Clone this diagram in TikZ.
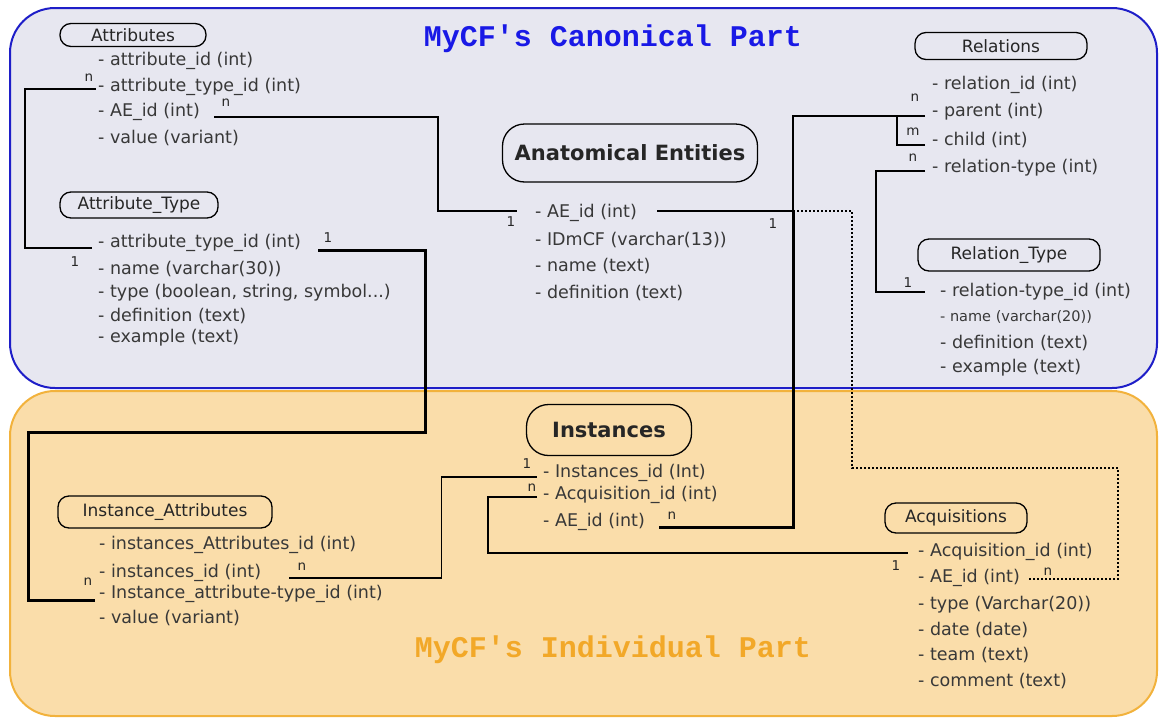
\documentclass[tikz,border=0pt]{standalone}
\usepackage{fontspec}
\setmainfont{DejaVu Sans}
\newfontfamily\titlefont[Ligatures=TeXOff]{Liberation Mono}
\usepackage{tikz}
\definecolor{canonfill}{RGB}{231,231,240}
\definecolor{canonline}{RGB}{30,30,200}
\definecolor{canontext}{RGB}{25,25,230}
\definecolor{indivfill}{RGB}{250,221,170}
\definecolor{indivline}{RGB}{242,178,60}
\definecolor{indivtext}{RGB}{242,168,40}
\tikzset{
  tblhead/.style={draw, rounded corners=11pt, line width=1.3pt, inner sep=0pt,
    text=black!85, font=\fontsize{17}{20}\selectfont},
  bighead/.style={tblhead, rounded corners=22pt, font=\bfseries\fontsize{21}{25}\selectfont},
  field/.style={anchor=west, inner sep=0pt, text=black!78, font=\fontsize{17.5}{20}\selectfont},
  card/.style={inner sep=0pt, text=black!85, font=\fontsize{13.5}{15}\selectfont},
  parttitle/.style={inner sep=0pt, font=\titlefont\bfseries\fontsize{30}{32}\selectfont}
}

\begin{document}
\begin{tikzpicture}[x=1pt, y=-1pt,
      rel/.style={line width=1.4pt},
      relthick/.style={line width=3pt},
      reldot/.style={line width=2pt, dotted}]

    \useasboundingbox (0,0) rectangle (1159,718);

    \draw[fill=canonfill, draw=canonline, line width=2pt, rounded corners=45pt]
      (10,8) rectangle (1157,388);
    \draw[fill=indivfill, draw=indivline, line width=2pt, rounded corners=45pt]
      (10,391) rectangle (1157,716);

    \node[parttitle, text=canontext] (CanonTitle) at (613,39) {MyCF's Canonical Part};
    \node[parttitle, text=indivtext] (IndivTitle) at (613,650) {MyCF's Individual Part};

    \node[tblhead, minimum width=146pt, minimum height=23pt]
      (Attributes) at (133,35) {Attributes};
    \node[field] (a1) at (98,61) {- attribute\_id (int)};
    \node[field] (a2) at (98,87) {- attribute\_type\_id (int)};
    \node[field] (a3) at (98,112) {- AE\_id (int)};
    \node[field] (a4) at (98,138) {- value (variant)};

    \node[tblhead, minimum width=158pt, minimum height=26pt]
      (AttributeType) at (139,205) {Attribute\_Type};
    \node[field] (t1) at (98,243) {- attribute\_type\_id (int)};
    \node[field] (t2) at (98,269) {- name (varchar(30))};
    \node[field] (t3) at (98,293) {- type (boolean, string, symbol...)};
    \node[field] (t4) at (98,316) {- definition (text)};
    \node[field] (t5) at (98,338) {- example (text)};

    \node[bighead, minimum width=255pt, minimum height=58pt]
      (AnatomicalEntities) at (630,153) {Anatomical Entities};
    \node[field] (e1) at (535,213) {- AE\_id (int)};
    \node[field] (e2) at (535,240) {- IDmCF (varchar(13))};
    \node[field] (e3) at (535,266) {- name (text)};
    \node[field] (e4) at (535,293) {- definition (text)};

    \node[tblhead, minimum width=172pt, minimum height=27pt]
      (Relations) at (1001,46) {Relations};
    \node[field] (r1) at (932,85) {- relation\_id (int)};
    \node[field] (r2) at (932,112) {- parent (int)};
    \node[field] (r3) at (932,140) {- child (int)};
    \node[field] (r4) at (932,168) {- relation-type (int)};

    \node[tblhead, minimum width=182pt, minimum height=32pt]
      (RelationType) at (1009,255) {Relation\_Type};
    \node[field] (rt1) at (940,292) {- relation-type\_id (int)};
    \node[field, font=\fontsize{14.5}{16}\selectfont] (rt2) at (940,317) {- name (varchar(20))};
    \node[field] (rt3) at (940,343) {- definition (text)};
    \node[field] (rt4) at (940,368) {- example (text)};

    \node[bighead, minimum width=165pt, minimum height=51pt]
      (Instances) at (609,430) {Instances};
    \node[field] (i1) at (543,473) {- Instances\_id (Int)};
    \node[field] (i2) at (543,495) {- Acquisition\_id (int)};
    \node[field] (i3) at (543,522) {- AE\_id (int)};

    \node[tblhead, minimum width=214pt, minimum height=32pt]
      (InstanceAttributes) at (165,512) {Instance\_Attributes};
    \node[field] (ia1) at (99,545) {- instances\_Attributes\_id (int)};
    \node[field] (ia2) at (99,573) {- instances\_id (int)};
    \node[field] (ia3) at (99,594) {- Instance\_attribute-type\_id (int)};
    \node[field] (ia4) at (99,618) {- value (variant)};

    \node[tblhead, minimum width=142pt, minimum height=30pt]
      (Acquisitions) at (956,518) {Acquisitions};
    \node[field] (q1) at (918,552) {- Acquisition\_id (int)};
    \node[field] (q2) at (918,578) {- AE\_id (int)};
    \node[field] (q3) at (918,605) {- type (Varchar(20))};
    \node[field] (q4) at (918,630) {- date (date)};
    \node[field] (q5) at (918,655) {- team (text)};
    \node[field] (q6) at (918,681) {- comment (text)};

    \draw[rel] ([xshift=-2pt,yshift=-2pt]a2.west) -- ++(-71,0)
      |- ([xshift=-6pt,yshift=-5pt]t1.west);
    \draw[rel] ([xshift=14pt,yshift=-5pt]a3.east) -- ++(224,0)
      |- ([xshift=-18pt,yshift=2pt]e1.west);
    \draw[rel] ([xshift=-7pt,yshift=-4pt]r2.west) -- ++(-132,0)
      |- coordinate[pos=0.5] (aejoin) ([xshift=20pt,yshift=2pt]e1.east);
    \draw[rel] ([xshift=-7pt,yshift=-5pt]r3.west) -- ++(-28,0)
      |- ([xshift=-7pt,yshift=-4pt]r2.west);
    \draw[rel] ([xshift=-7pt,yshift=-3pt]r4.west) -- ++(-49,0)
      |- ([xshift=-15pt]rt1.west);
    \draw[relthick] ([xshift=14pt,yshift=-5pt]i3.east) -| (aejoin);
    \draw[reldot] (aejoin) -- ++(59,0) |- (1118,468)
      |- ([xshift=8pt,yshift=-1pt]q2.east);
    \draw[relthick] ([xshift=17pt,yshift=-7pt]t1.east) -- ++(107,0)
      |- (28,432) |- ([xshift=-4pt,yshift=-6pt]ia3.west);
    \draw[rel] ([xshift=28pt,yshift=-5pt]ia2.east) -- ++(152,0)
      |- ([xshift=-6pt,yshift=-4pt]i1.west);
    \draw[rel] ([xshift=-6pt,yshift=-2pt]i2.west) -- ++(-49,0)
      |- ([xshift=-10pt,yshift=-1pt]q1.west);

    \node[card] (ca1) at (89,78) {n};
    \node[card] (ca2) at (75,262) {1};
    \node[card] (ca3) at (226,103) {n};
    \node[card] (ca4) at (511,222) {1};
    \node[card] (ca5) at (915,98) {n};
    \node[card] (ca6) at (773,224) {1};
    \node[card] (ca7) at (913,132) {m};
    \node[card] (ca8) at (913,158) {n};
    \node[card] (ca9) at (908,283) {1};
    \node[card] (ca10) at (328,238) {1};
    \node[card] (ca11) at (88,582) {n};
    \node[card] (ca12) at (302,567) {n};
    \node[card] (ca13) at (527,464) {1};
    \node[card] (ca14) at (532,488) {n};
    \node[card] (ca15) at (896,566) {1};
    \node[card] (ca16) at (672,516) {n};
    \node[card] (ca17) at (1048,572) {n};

  \end{tikzpicture}
\end{document}
